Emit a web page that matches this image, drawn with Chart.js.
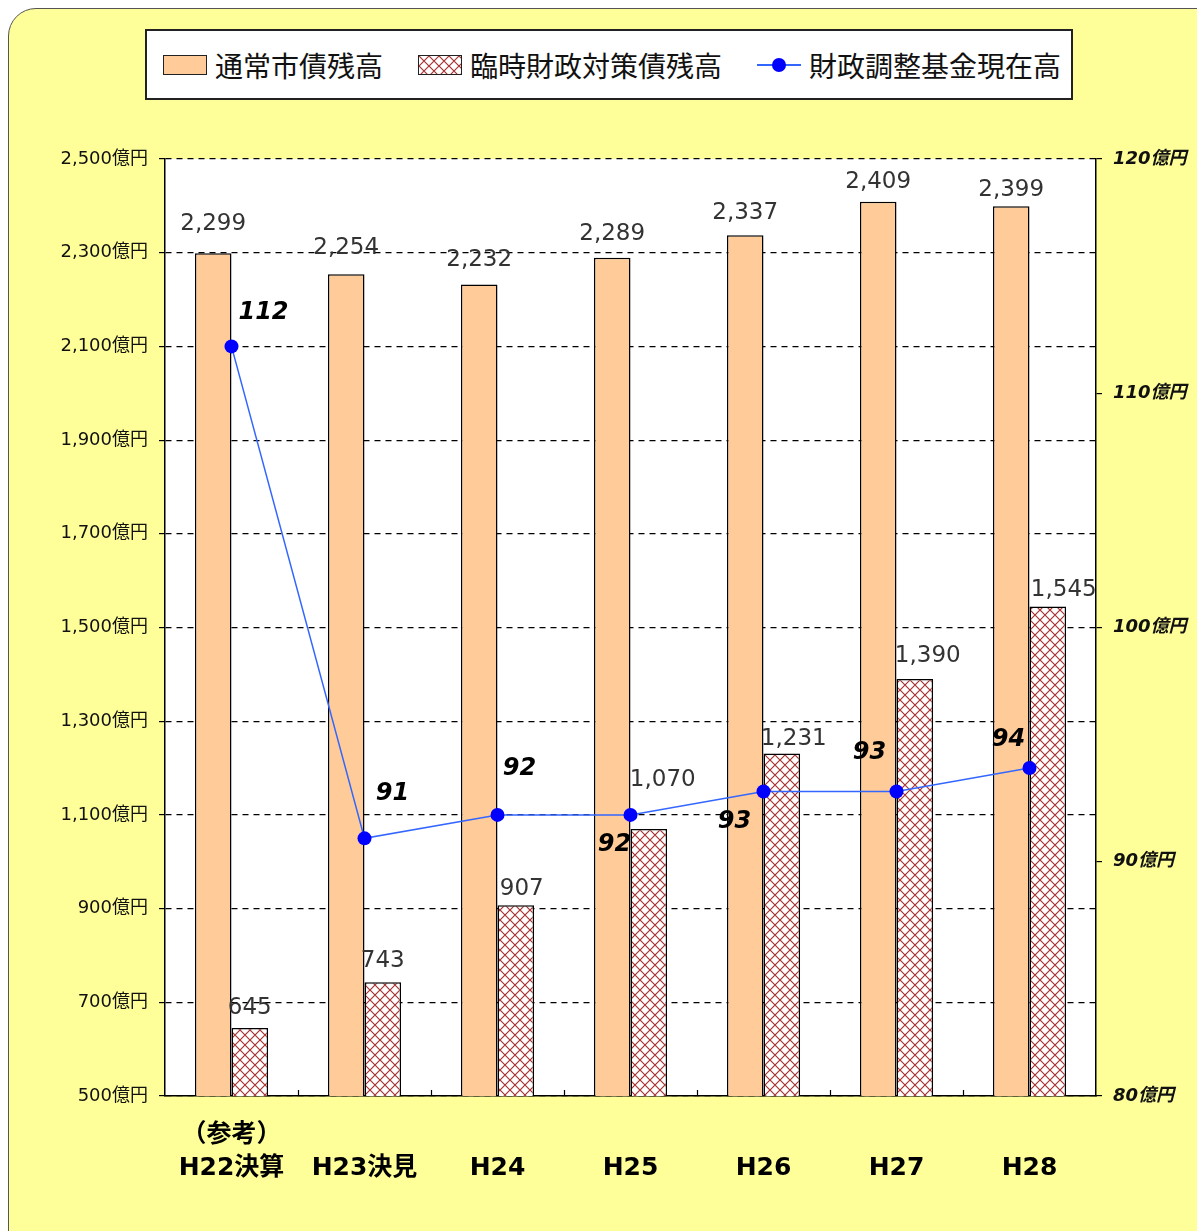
<!DOCTYPE html>
<html>
<head>
<meta charset="utf-8">
<script src="https://cdn.jsdelivr.net/npm/chart.js@4"></script>
<style>
html, body { margin:0; padding:0; background:#fff; width:1197px; height:1231px; overflow:hidden; font-family:"Noto Sans CJK JP", sans-serif; }
#frame { position:absolute; left:8px; top:8px; width:1260px; height:1300px; background:#FFFF99; border:1.5px solid #555; border-radius:28px; }
#wrap { position:absolute; left:0; top:0; width:1197px; height:1231px; }
#legend { position:absolute; left:145px; top:29px; width:924px; height:67px; background:#fff; border:2px solid #222; }
.item { position:absolute; top:0; height:67px; display:flex; align-items:center; font-size:28px; color:#111; white-space:nowrap; }
.sw { width:42px; height:18px; border:1.5px solid #222; margin-right:8px; }
.lsw { position:relative; width:44px; height:20px; margin-right:8px; }
.lsw .ln { position:absolute; left:0; right:0; top:9px; height:2px; background:#3366FF; }
.lsw .dt { position:absolute; left:15px; top:3px; width:14px; height:14px; border-radius:50%; background:#0000FF; }
</style>
</head>
<body>
<div id="frame"></div>
<div id="wrap"><canvas id="myChart" width="1197" height="1231"></canvas></div>
<div id="legend">
  <div class="item" style="left:16px"><div class="sw" style="background:#FFCC99"></div>通常市債残高</div>
  <div class="item" style="left:271px"><div class="sw" id="hatchSw"></div>臨時財政対策債残高</div>
  <div class="item" style="left:610px"><div class="lsw"><div class="ln"></div><div class="dt"></div></div>財政調整基金現在高</div>
</div>
<script>
// 年度
var categories = ['H22決算', 'H23決見', 'H24', 'H25', 'H26', 'H27', 'H28'];
var notes = ['（参考）', '', '', '', '', '', ''];
// 億円
var regularDebt = [2299, 2254, 2232, 2289, 2337, 2409, 2399];
var tempDebt = [645, 743, 907, 1070, 1231, 1390, 1545];
var fund = [112, 91, 92, 92, 93, 93, 94];

// label placement (pixels, relative to the mark)
var regularLabelDy = [-29, -26, -25, -24, -22, -20, -16];
var tempLabelDx = [0, 0, 6, 14, 12, 13, 16];
var tempLabelDy = [-20, -21, -16, -49, -14, -23, -16];
var fundLabelOffsets = [[32, -34], [28, -45], [22, -46], [-16, 30], [-29, 30], [-27, -39], [-21, -28]];

var FONT = '"DejaVu Sans", "Noto Sans CJK JP", sans-serif';

function makeHatch() {
    var c = document.createElement('canvas');
    c.width = 10; c.height = 10;
    var g = c.getContext('2d');
    g.fillStyle = '#fff';
    g.fillRect(0, 0, 10, 10);
    g.strokeStyle = '#A83232';
    g.lineWidth = 1.2;
    g.beginPath();
    g.moveTo(0, 0); g.lineTo(10, 10);
    g.moveTo(10, 0); g.lineTo(0, 10);
    g.stroke();
    return c;
}
var hatchCanvas = makeHatch();
document.getElementById('hatchSw').style.background = 'url(' + hatchCanvas.toDataURL() + ')';

var ctx = document.getElementById('myChart').getContext('2d');
var hatch = ctx.createPattern(hatchCanvas, 'repeat');

var labels = [];
for (var i = 0; i < categories.length; i++) {
    labels.push([notes[i], categories[i]]);
}

var decorPlugin = {
    id: 'decor',
    beforeDraw: function(chart) {
        var a = chart.chartArea, c = chart.ctx;
        c.save();
        c.fillStyle = '#fff';
        c.fillRect(a.left, a.top, a.right - a.left, a.bottom - a.top);
        c.restore();
    },
    afterDatasetsDraw: function(chart) {
        var c = chart.ctx, a = chart.chartArea;
        c.save();
        // small category ticks on the bottom axis
        var n = categories.length, w = (a.right - a.left) / n;
        c.strokeStyle = '#000';
        c.lineWidth = 1.2;
        for (var k = 1; k < n; k++) {
            var x = Math.round(a.left + k * w) + 0.5;
            c.beginPath();
            c.moveTo(x, a.bottom);
            c.lineTo(x, a.bottom - 6);
            c.stroke();
        }
        // bar value labels
        c.font = '23px ' + FONT;
        c.fillStyle = '#333';
        c.textAlign = 'center';
        c.textBaseline = 'middle';
        chart.getDatasetMeta(0).data.forEach(function(el, j) {
            c.fillText(regularDebt[j].toLocaleString('en-US'), el.x, el.y + regularLabelDy[j]);
        });
        chart.getDatasetMeta(1).data.forEach(function(el, j) {
            c.fillText(tempDebt[j].toLocaleString('en-US'), el.x + tempLabelDx[j], el.y + tempLabelDy[j]);
        });
        // fund labels
        c.font = 'italic bold 24px ' + FONT;
        c.fillStyle = '#000';
        chart.getDatasetMeta(2).data.forEach(function(el, j) {
            c.fillText(String(fund[j]), el.x + fundLabelOffsets[j][0], el.y + fundLabelOffsets[j][1]);
        });
        c.restore();
    }
};

var config = {
    data: {
        labels: labels,
        datasets: [{
            type: 'bar',
            label: '通常市債残高',
            data: regularDebt,
            backgroundColor: '#FFCC99',
            borderColor: '#000',
            borderWidth: 1.5,
            yAxisID: 'y',
            order: 2
        }, {
            type: 'bar',
            label: '臨時財政対策債残高',
            data: tempDebt,
            backgroundColor: hatch,
            borderColor: '#000',
            borderWidth: 1.5,
            yAxisID: 'y',
            order: 2
        }, {
            type: 'line',
            label: '財政調整基金現在高',
            data: fund,
            borderColor: '#3366FF',
            borderWidth: 1.5,
            pointBackgroundColor: '#0000FF',
            pointBorderWidth: 0,
            pointRadius: 7,
            tension: 0,
            yAxisID: 'y2',
            order: 1
        }]
    },
    options: {
        responsive: false,
        animation: false,
        layout: { padding: { top: 159, left: 0, right: 0, bottom: 0 } },
        plugins: { legend: { display: false }, tooltip: { enabled: false } },
        datasets: { bar: { categoryPercentage: 0.55, barPercentage: 1 } },
        scales: {
            x: {
                offset: true,
                grid: { display: true, drawOnChartArea: false, drawTicks: false },
                border: { display: true, color: '#000', width: 1.5 },
                ticks: {
                    font: { family: FONT, size: 25, weight: 'bold', lineHeight: 1.32 },
                    color: '#000',
                    padding: 23,
                    maxRotation: 0,
                    autoSkip: false
                },
                afterFit: function(s) { s.height = 135; }
            },
            y: {
                position: 'left',
                min: 500,
                max: 2500,
                ticks: {
                    stepSize: 200,
                    font: { family: FONT, size: 18 },
                    color: '#111',
                    padding: 11,
                    callback: function(v) { return v.toLocaleString('en-US') + '億円'; }
                },
                grid: { color: '#000', lineWidth: 1.2, tickLength: 6, tickColor: '#000', tickBorderDash: [] },
                border: { display: true, color: '#000', width: 1.5, dash: [6, 5] },
                afterFit: function(s) { s.width = 165; }
            },
            y2: {
                position: 'right',
                min: 80,
                max: 120,
                ticks: {
                    stepSize: 10,
                    font: { family: FONT, size: 18, style: 'italic', weight: 'bold' },
                    color: '#111',
                    padding: 11,
                    callback: function(v) { return v + '億円'; }
                },
                grid: { drawOnChartArea: false, color: '#000', tickLength: 6, lineWidth: 1.2 },
                border: { display: true, color: '#000', width: 1.5 },
                afterFit: function(s) { s.width = 101; }
            }
        }
    },
    plugins: [decorPlugin]
};

var myChart = new Chart(ctx, config);
</script>
</body>
</html>
